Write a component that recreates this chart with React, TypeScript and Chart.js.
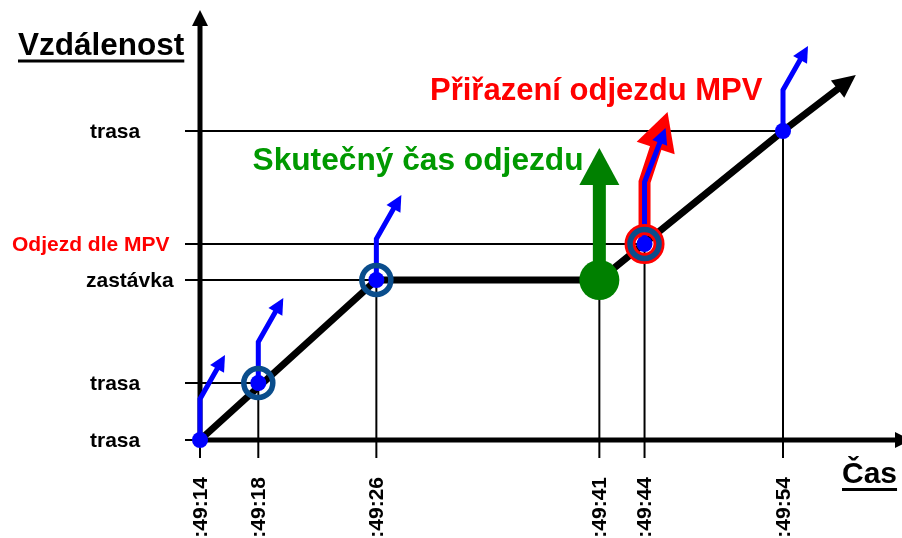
import React, { useEffect, useRef } from 'react';
import { Chart, registerables } from 'chart.js';

Chart.register(...registerables);

// ---------- data ----------
const timeTickLabels = [':49:14', ':49:18', ':49:26', ':49:41', ':49:44', ':49:54'];
const timeTickValues = [14, 18, 26.1, 41.4, 44.5, 54]; // seconds within the minute
const eventDistances = [0, 57, 160, 160, 196, 309]; // distance of the vehicle at each time tick
const distTickLabels = ['trasa', 'trasa', 'zastávka', 'Odjezd dle MPV', 'trasa'];
const distTickValues = [0, 57, 160, 196, 309];
const pathTimes = [14, 26.1, 41.4, 54, 57.8];
const pathDistances = [0, 160, 160, 309, 351.5];
const blueEventIdx = [0, 1, 2, 4, 5];
const ringEventIdx = [1, 2, 4];
const mpvEventIdx = [4];
const actualDepartureIdx = [3];

const yTitle = 'Vzdálenost';
const xTitle = 'Čas';
const actualText = 'Skutečný čas odjezdu';
const mpvText = 'Přiřazení odjezdu MPV';

// ---------- style ----------
const FONT = '"Liberation Sans", Arial, Helvetica, sans-serif';
const BLUE = '#0000ff';
const DARK_BLUE = '#0a4d8c';
const RED = '#ff0000';
const GREEN = '#008000';
const GREEN_TEXT = '#009900';
const distLabelLeft = [90, 90, 86, 12, 90];
const distLabelColor = ['#000', '#000', '#000', RED, '#000'];

const X_MIN = 14;
const X_MAX = 14 + 702 / 14.575;

function pts(idx: number[]) {
  return idx.map((i) => ({ x: timeTickValues[i], y: eventDistances[i] }));
}

function head(ctx: CanvasRenderingContext2D, tx: number, ty: number, ux: number, uy: number, len: number, half: number, color: string) {
  const bx = tx - ux * len;
  const by = ty - uy * len;
  ctx.beginPath();
  ctx.moveTo(tx, ty);
  ctx.lineTo(bx - uy * half, by + ux * half);
  ctx.lineTo(bx + uy * half, by - ux * half);
  ctx.closePath();
  ctx.fillStyle = color;
  ctx.fill();
}

function bentArrow(
  ctx: CanvasRenderingContext2D,
  px: number,
  py: number,
  rise: number,
  dx: number,
  dy: number,
  width: number,
  headLen: number,
  headHalf: number,
  color: string
) {
  const kx = px;
  const ky = py - rise;
  const tx = kx + dx;
  const ty = ky - dy;
  const L = Math.hypot(dx, dy);
  const ux = dx / L;
  const uy = -dy / L;
  const bx = tx - ux * (headLen - 1);
  const by = ty - uy * (headLen - 1);
  ctx.beginPath();
  ctx.moveTo(px, py);
  ctx.lineTo(kx, ky);
  ctx.lineTo(bx, by);
  ctx.strokeStyle = color;
  ctx.lineWidth = width;
  ctx.lineJoin = 'miter';
  ctx.lineCap = 'butt';
  ctx.stroke();
  head(ctx, tx, ty, ux, uy, headLen, headHalf, color);
}

function seg(ctx: CanvasRenderingContext2D, x1: number, y1: number, x2: number, y2: number) {
  ctx.beginPath();
  ctx.moveTo(x1, y1);
  ctx.lineTo(x2, y2);
  ctx.stroke();
}

const diagramPlugin = {
  id: 'diagram',
  beforeDatasetsDraw(chart: any) {
    const ctx: CanvasRenderingContext2D = chart.ctx;
    const xs = chart.scales.x;
    const ys = chart.scales.y;
    const x0 = xs.getPixelForValue(X_MIN);
    const y0 = ys.getPixelForValue(0);
    ctx.save();
    // thin guide lines
    ctx.strokeStyle = '#000';
    ctx.lineWidth = 2;
    ctx.lineCap = 'butt';
    distTickValues.forEach((v) => {
      const py = ys.getPixelForValue(v);
      const idx = eventDistances.indexOf(v);
      const px = xs.getPixelForValue(timeTickValues[idx]);
      seg(ctx, x0 - 15, py, px, py);
    });
    timeTickValues.forEach((t, i) => {
      const px = xs.getPixelForValue(t);
      const py = ys.getPixelForValue(eventDistances[i]);
      seg(ctx, px, py, px, y0 + 18);
    });
    // axes
    const topY = ys.getPixelForValue(ys.max);
    const rightX = chart.chartArea.right + 9;
    ctx.lineWidth = 5;
    seg(ctx, x0, y0 + 2.5, x0, topY + 14);
    head(ctx, x0, topY, 0, -1, 16, 8, '#000');
    seg(ctx, x0 - 2.5, y0, rightX - 14, y0);
    head(ctx, rightX, y0, 1, 0, 16, 8, '#000');

    // green arrow (actual departure)
    actualDepartureIdx.forEach((i) => {
      const px = xs.getPixelForValue(timeTickValues[i]);
      const py = ys.getPixelForValue(eventDistances[i]);
      ctx.strokeStyle = GREEN;
      ctx.lineWidth = 13;
      seg(ctx, px, py, px, py - 96);
      head(ctx, px, py - 132, 0, -1, 37, 20, GREEN);
    });

    // red MPV arrow (under blue)
    mpvEventIdx.forEach((i) => {
      const px = xs.getPixelForValue(timeTickValues[i]);
      const py = ys.getPixelForValue(eventDistances[i]);
      bentArrow(ctx, px, py, 62, 23, 70, 12, 38, 20, RED);
    });

    // blue arrows
    blueEventIdx.forEach((i) => {
      const px = xs.getPixelForValue(timeTickValues[i]);
      const py = ys.getPixelForValue(eventDistances[i]);
      if (mpvEventIdx.includes(i)) {
        bentArrow(ctx, px, py, 62, 21, 54, 5, 16, 8, BLUE);
      } else {
        bentArrow(ctx, px, py, 41, 25, 44, 5, 16, 8, BLUE);
      }
    });
    ctx.restore();
  },
  afterDatasetsDraw(chart: any) {
    const ctx: CanvasRenderingContext2D = chart.ctx;
    const xs = chart.scales.x;
    const ys = chart.scales.y;
    const n = pathTimes.length;
    const ax = xs.getPixelForValue(pathTimes[n - 2]);
    const ay = ys.getPixelForValue(pathDistances[n - 2]);
    const bx = xs.getPixelForValue(pathTimes[n - 1]);
    const by = ys.getPixelForValue(pathDistances[n - 1]);
    const L = Math.hypot(bx - ax, by - ay);
    const ux = (bx - ax) / L;
    const uy = (by - ay) / L;
    ctx.save();
    head(ctx, bx + ux * 22, by + uy * 22, ux, uy, 23, 11, '#000');
    ctx.restore();
  },
  afterDraw(chart: any) {
    const ctx: CanvasRenderingContext2D = chart.ctx;
    const xs = chart.scales.x;
    const ys = chart.scales.y;
    const y0 = ys.getPixelForValue(0);
    ctx.save();
    // distance labels
    ctx.font = `bold 21px ${FONT}`;
    ctx.textAlign = 'left';
    ctx.textBaseline = 'alphabetic';
    distTickValues.forEach((v, i) => {
      ctx.fillStyle = distLabelColor[i];
      ctx.fillText(distTickLabels[i], distLabelLeft[i], ys.getPixelForValue(v) + 7);
    });
    // time labels (rotated)
    ctx.font = `bold 21px ${FONT}`;
    ctx.fillStyle = '#000';
    timeTickValues.forEach((t, i) => {
      const px = xs.getPixelForValue(t);
      ctx.save();
      ctx.translate(px + 1, y0 + 37);
      ctx.rotate(-Math.PI / 2);
      ctx.textAlign = 'right';
      ctx.textBaseline = 'middle';
      ctx.fillText(timeTickLabels[i], 0, 0);
      ctx.restore();
    });
    // axis titles
    ctx.textAlign = 'left';
    ctx.textBaseline = 'alphabetic';
    ctx.font = `bold 31.5px ${FONT}`;
    ctx.fillText(yTitle, 18, 55);
    const w1 = ctx.measureText(yTitle).width;
    ctx.fillRect(18, 59.5, w1, 3);
    ctx.font = `bold 30px ${FONT}`;
    ctx.fillText(xTitle, 842, 483);
    const w2 = ctx.measureText(xTitle).width;
    ctx.fillRect(842, 488, w2, 3);
    // annotations
    ctx.font = `bold 31.7px ${FONT}`;
    ctx.fillStyle = GREEN_TEXT;
    ctx.fillText(actualText, 252.5, 170);
    ctx.font = `bold 31px ${FONT}`;
    ctx.fillStyle = RED;
    ctx.fillText(mpvText, 430, 100);
    ctx.restore();
  },
};

export default function App() {
  const ref = useRef<HTMLCanvasElement | null>(null);
  useEffect(() => {
    if (!ref.current) return;
    const chart = new Chart(ref.current, {
      type: 'line',
      data: {
        datasets: [
          {
            label: 'vozidlo',
            data: pathTimes.map((t, i) => ({ x: t, y: pathDistances[i] })),
            borderColor: '#000',
            borderWidth: 7,
            pointRadius: 0,
            fill: false,
            tension: 0,
            clip: false,
            order: 6,
          } as any,
          {
            label: 'MPV kruh',
            data: pts(mpvEventIdx),
            showLine: false,
            pointRadius: 14.5,
            pointBorderWidth: 11,
            pointBorderColor: RED,
            pointBackgroundColor: 'rgba(0,0,0,0)',
            clip: false,
            order: 4,
          } as any,
          {
            label: 'kruhy',
            data: pts(ringEventIdx),
            showLine: false,
            pointRadius: 14.5,
            pointBorderWidth: 5.5,
            pointBorderColor: DARK_BLUE,
            pointBackgroundColor: 'rgba(0,0,0,0)',
            clip: false,
            order: 3,
          } as any,
          {
            label: 'skutečný odjezd',
            data: pts(actualDepartureIdx),
            showLine: false,
            pointRadius: 20,
            pointBorderWidth: 0,
            pointBackgroundColor: GREEN,
            clip: false,
            order: 2,
          } as any,
          {
            label: 'body',
            data: pts(blueEventIdx),
            showLine: false,
            pointRadius: 8,
            pointBorderWidth: 0,
            pointBackgroundColor: BLUE,
            clip: false,
            order: 1,
          } as any,
        ],
      },
      options: {
        animation: false,
        responsive: false,
        events: [],
        layout: { autoPadding: false, padding: { left: 200, right: 0, top: 10, bottom: 98 } },
        plugins: { legend: { display: false }, tooltip: { enabled: false } },
        scales: {
          x: { type: 'linear', display: false, min: X_MIN, max: X_MAX },
          y: { type: 'linear', display: false, min: 0, max: 430 },
        },
      },
      plugins: [diagramPlugin],
    } as any);
    return () => chart.destroy();
  }, []);
  return (
    <div style={{ position: 'fixed', left: 0, top: 0, width: 902, height: 538, background: '#fff' }}>
      <canvas ref={ref} width={902} height={538} style={{ display: 'block' }} />
    </div>
  );
}
